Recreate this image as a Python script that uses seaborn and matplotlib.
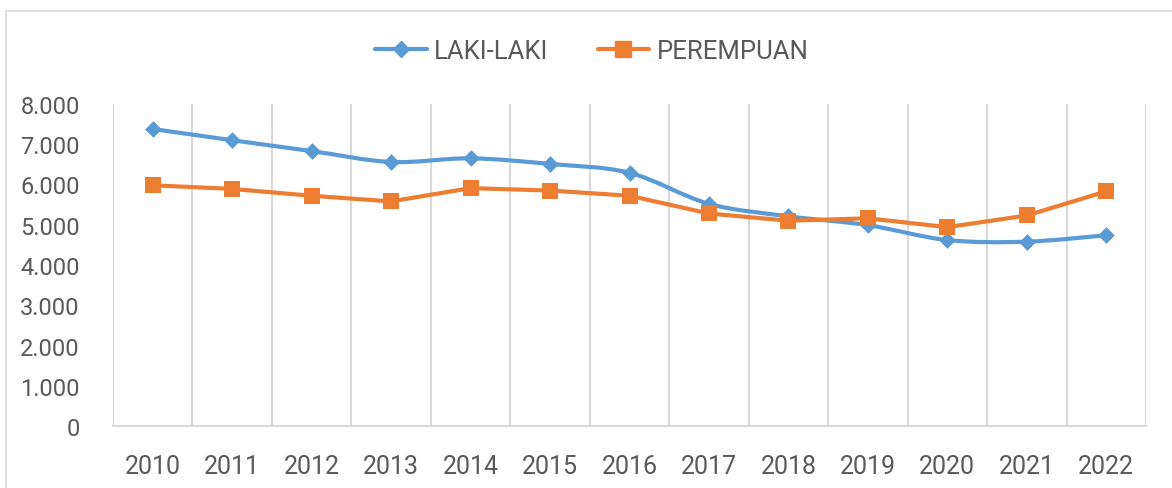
import numpy as np
import pandas as pd
import seaborn as sns
import matplotlib
matplotlib.use('Agg')
import matplotlib.pyplot as plt
from matplotlib.path import Path
from matplotlib.patches import PathPatch, Rectangle
from matplotlib.lines import Line2D

# --- data ---
years = ["2010", "2011", "2012", "2013", "2014", "2015", "2016",
         "2017", "2018", "2019", "2020", "2021", "2022"]
laki_laki = [7380, 7100, 6830, 6560, 6650, 6510, 6290,
             5520, 5210, 4990, 4620, 4580, 4740]
perempuan = [5980, 5890, 5720, 5580, 5910, 5850, 5720,
             5280, 5100, 5160, 4940, 5230, 5830]
y_ticks = [0, 1000, 2000, 3000, 4000, 5000, 6000, 7000, 8000]

blue = "#5B9BD5"
orange = "#ED7D31"
grid_col = "#D9D9D9"
text_col = "#595959"

sns.set_theme(style="white")
plt.rcParams['font.family'] = ['Roboto', 'DejaVu Sans']

df = pd.DataFrame({"pos": np.arange(len(years)), "LAKI-LAKI": laki_laki, "PEREMPUAN": perempuan})

fig = plt.figure(figsize=(11.72, 4.89), dpi=100)
ax = fig.add_axes([113 / 1172, 1 - 427 / 489, (1146 - 113) / 1172, (427 - 105) / 489])

# light frame like the Excel chart area (only top/left visible in the crop)
fig.patches.append(Rectangle((6 / 1172, -0.2), 1.2, 1 - 12 / 489 + 0.2, transform=fig.transFigure,
                             fill=False, edgecolor=grid_col, linewidth=1.2))


def smooth_path(xs, ys):
    # Excel-like smoothed line: cubic bezier through every point
    pts = np.column_stack([xs, ys]).astype(float)
    verts = [pts[0]]
    codes = [Path.MOVETO]
    n = len(pts)
    for i in range(n - 1):
        p0 = pts[i - 1] if i > 0 else pts[i]
        p1, p2 = pts[i], pts[i + 1]
        p3 = pts[i + 2] if i + 2 < n else pts[i + 1]
        c1 = p1 + (p2 - p0) / 6.0
        c2 = p2 - (p3 - p1) / 6.0
        verts += [c1, c2, p2]
        codes += [Path.CURVE4] * 3
    return Path(verts, codes)


# LAKI-LAKI: smoothed line
ax.add_patch(PathPatch(smooth_path(df["pos"], df["LAKI-LAKI"]), facecolor="none",
                       edgecolor=blue, linewidth=3, capstyle="round", zorder=3))
sns.scatterplot(data=df, x="pos", y="LAKI-LAKI", marker="D", s=8.5 ** 2, color=blue,
                edgecolor=blue, linewidth=0, ax=ax, zorder=4, legend=False)

# PEREMPUAN: straight segments
sns.lineplot(data=df, x="pos", y="PEREMPUAN", color=orange, linewidth=3, ax=ax, zorder=3,
             legend=False)
sns.scatterplot(data=df, x="pos", y="PEREMPUAN", marker="s", s=12 ** 2, color=orange,
                edgecolor=orange, linewidth=0, ax=ax, zorder=4, legend=False)

ax.set_xlim(-0.5, len(years) - 0.5)
ax.set_ylim(0, 8000)
ax.set_xticks(np.arange(len(years)))
ax.set_xticklabels(years)
ax.set_xticks(np.arange(-0.5, len(years)), minor=True)
ax.set_yticks(y_ticks)
ax.set_yticklabels([f"{v:,.0f}".replace(",", ".") for v in y_ticks])
ax.set_xlabel("")
ax.set_ylabel("")

ax.grid(False)
ax.grid(which="minor", axis="x", color=grid_col, linewidth=1.5)
ax.tick_params(axis="both", which="both", length=0, colors=text_col, labelsize=17)
ax.tick_params(axis="x", labelsize=18, pad=20)
ax.tick_params(axis="y", pad=24)
for s in ["top", "left", "right"]:
    ax.spines[s].set_visible(False)
ax.spines["bottom"].set_color(grid_col)
ax.spines["bottom"].set_linewidth(1.5)

handles = [Line2D([], [], color=blue, marker="D", markersize=8.5, linewidth=3, solid_capstyle="round"),
           Line2D([], [], color=orange, marker="s", markersize=12, linewidth=3, solid_capstyle="round")]
leg = fig.legend(handles, ["LAKI-LAKI", "PEREMPUAN"], loc="center", bbox_to_anchor=(0.505, 1 - 52 / 489),
                 ncol=2, frameon=False, fontsize=18.5, handlelength=2.0, columnspacing=1.9, handletextpad=0.3)
for t in leg.get_texts():
    t.set_color(text_col)

fig.savefig("out.png", dpi=100, facecolor="white")
